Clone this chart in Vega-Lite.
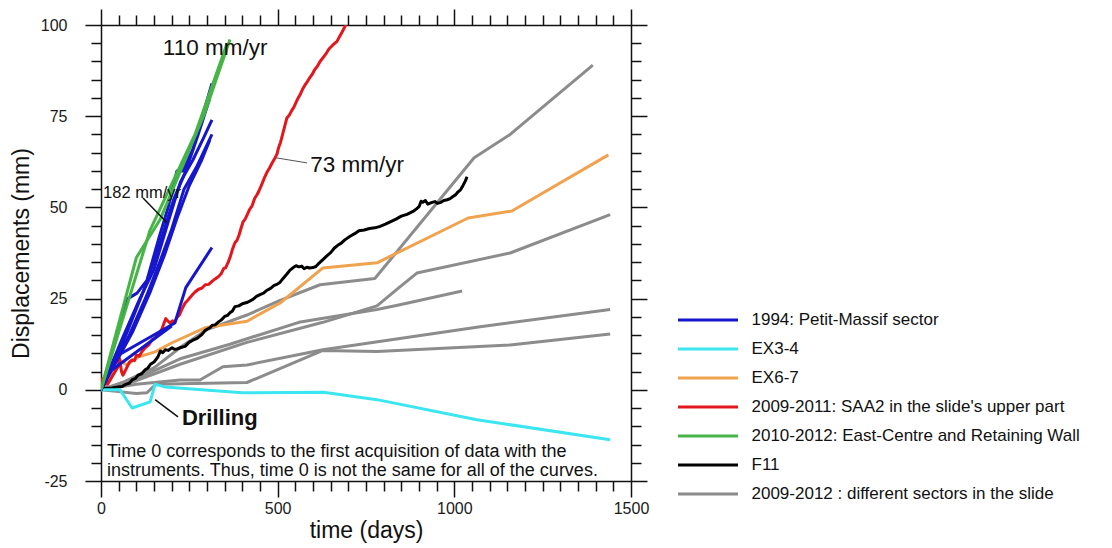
{
  "$schema": "https://vega.github.io/schema/vega-lite/v6.json",
  "width": 530,
  "height": 456,
  "autosize": {"type": "none"},
  "padding": {"left": 101, "top": 25, "right": 481, "bottom": 67},
  "background": "white",
  "config": {
    "view": {"stroke": null},
    "font": "Liberation Sans",
    "axis": {"grid": false, "domainColor": "#111", "domainWidth": 1.5, "tickColor": "#111", "tickWidth": 1.5, "labelColor": "#1a1a1a", "labelFontSize": 16, "labelOverlap": false, "labelFlush": false, "titleColor": "#111", "titleFontWeight": "normal", "titleFontSize": 23}
  },
  "datasets": {
    "series": [
      {"k": "blue", "s": "1994: Petit-Massif sector"},
      {"k": "cyan", "s": "EX3-4"},
      {"k": "orange", "s": "EX6-7"},
      {"k": "red", "s": "2009-2011: SAA2 in the slide's upper part"},
      {"k": "green", "s": "2010-2012: East-Centre and Retaining Wall"},
      {"k": "black", "s": "F11"},
      {"k": "gray", "s": "2009-2012 : different sectors in the slide"}
    ],
    "curves": [
      {"c": "g1", "k": "gray", "t": 0, "d": 0}, {"c": "g1", "k": "gray", "t": 60, "d": 2}, {"c": "g1", "k": "gray", "t": 150, "d": 6}, {"c": "g1", "k": "gray", "t": 230, "d": 12}, {"c": "g1", "k": "gray", "t": 300, "d": 16.5}, {"c": "g1", "k": "gray", "t": 413, "d": 20.5}, {"c": "g1", "k": "gray", "t": 507, "d": 24.5}, {"c": "g1", "k": "gray", "t": 620, "d": 28.8}, {"c": "g1", "k": "gray", "t": 775, "d": 30.5}, {"c": "g1", "k": "gray", "t": 1056, "d": 63.6}, {"c": "g1", "k": "gray", "t": 1158, "d": 70}, {"c": "g1", "k": "gray", "t": 1392, "d": 89},
      {"c": "g2", "k": "gray", "t": 0, "d": 0}, {"c": "g2", "k": "gray", "t": 100, "d": 2.5}, {"c": "g2", "k": "gray", "t": 224, "d": 7}, {"c": "g2", "k": "gray", "t": 413, "d": 13}, {"c": "g2", "k": "gray", "t": 628, "d": 18.5}, {"c": "g2", "k": "gray", "t": 781, "d": 23}, {"c": "g2", "k": "gray", "t": 846, "d": 28.2}, {"c": "g2", "k": "gray", "t": 894, "d": 32}, {"c": "g2", "k": "gray", "t": 1158, "d": 37.5}, {"c": "g2", "k": "gray", "t": 1441, "d": 48},
      {"c": "g3", "k": "gray", "t": 0, "d": 0}, {"c": "g3", "k": "gray", "t": 100, "d": 1.5}, {"c": "g3", "k": "gray", "t": 224, "d": 2.7}, {"c": "g3", "k": "gray", "t": 280, "d": 2.7}, {"c": "g3", "k": "gray", "t": 345, "d": 6.3}, {"c": "g3", "k": "gray", "t": 413, "d": 6.8}, {"c": "g3", "k": "gray", "t": 628, "d": 11}, {"c": "g3", "k": "gray", "t": 1073, "d": 17.3}, {"c": "g3", "k": "gray", "t": 1441, "d": 22},
      {"c": "g4", "k": "gray", "t": 0, "d": 0}, {"c": "g4", "k": "gray", "t": 50, "d": -0.5}, {"c": "g4", "k": "gray", "t": 100, "d": -1}, {"c": "g4", "k": "gray", "t": 130, "d": -0.8}, {"c": "g4", "k": "gray", "t": 155, "d": 1.5}, {"c": "g4", "k": "gray", "t": 413, "d": 2}, {"c": "g4", "k": "gray", "t": 628, "d": 10.8}, {"c": "g4", "k": "gray", "t": 781, "d": 10.5}, {"c": "g4", "k": "gray", "t": 1158, "d": 12.3}, {"c": "g4", "k": "gray", "t": 1441, "d": 15.3},
      {"c": "g5", "k": "gray", "t": 0, "d": 0}, {"c": "g5", "k": "gray", "t": 100, "d": 3}, {"c": "g5", "k": "gray", "t": 224, "d": 8.5}, {"c": "g5", "k": "gray", "t": 365, "d": 12.5}, {"c": "g5", "k": "gray", "t": 560, "d": 18.5}, {"c": "g5", "k": "gray", "t": 781, "d": 22}, {"c": "g5", "k": "gray", "t": 846, "d": 23.3}, {"c": "g5", "k": "gray", "t": 1022, "d": 27.1},

      {"c": "o1", "k": "orange", "t": 0, "d": 0}, {"c": "o1", "k": "orange", "t": 59, "d": 7.7}, {"c": "o1", "k": "orange", "t": 73, "d": 6.8}, {"c": "o1", "k": "orange", "t": 105, "d": 9}, {"c": "o1", "k": "orange", "t": 153, "d": 10.4}, {"c": "o1", "k": "orange", "t": 201, "d": 12.9}, {"c": "o1", "k": "orange", "t": 294, "d": 17}, {"c": "o1", "k": "orange", "t": 413, "d": 18.8}, {"c": "o1", "k": "orange", "t": 507, "d": 23.8}, {"c": "o1", "k": "orange", "t": 628, "d": 33.4}, {"c": "o1", "k": "orange", "t": 781, "d": 34.8}, {"c": "o1", "k": "orange", "t": 1039, "d": 47.1}, {"c": "o1", "k": "orange", "t": 1163, "d": 49}, {"c": "o1", "k": "orange", "t": 1436, "d": 64.4},

      {"c": "k1", "k": "black", "t": 0, "d": 0}, {"c": "k1", "k": "black", "t": 11, "d": 0.4}, {"c": "k1", "k": "black", "t": 30, "d": 0.5}, {"c": "k1", "k": "black", "t": 48, "d": 0.8}, {"c": "k1", "k": "black", "t": 60, "d": 0.9}, {"c": "k1", "k": "black", "t": 70, "d": 1.5}, {"c": "k1", "k": "black", "t": 80, "d": 1.8}, {"c": "k1", "k": "black", "t": 88, "d": 2.7}, {"c": "k1", "k": "black", "t": 97, "d": 3.1}, {"c": "k1", "k": "black", "t": 105, "d": 4}, {"c": "k1", "k": "black", "t": 115, "d": 4.4}, {"c": "k1", "k": "black", "t": 125, "d": 5.5}, {"c": "k1", "k": "black", "t": 133, "d": 6}, {"c": "k1", "k": "black", "t": 140, "d": 7}, {"c": "k1", "k": "black", "t": 150, "d": 7.6}, {"c": "k1", "k": "black", "t": 161, "d": 9}, {"c": "k1", "k": "black", "t": 168, "d": 10.6}, {"c": "k1", "k": "black", "t": 175, "d": 10.2}, {"c": "k1", "k": "black", "t": 182, "d": 11}, {"c": "k1", "k": "black", "t": 190, "d": 10.8}, {"c": "k1", "k": "black", "t": 201, "d": 11.5}, {"c": "k1", "k": "black", "t": 208, "d": 11.1}, {"c": "k1", "k": "black", "t": 215, "d": 11.2}, {"c": "k1", "k": "black", "t": 226, "d": 11.6}, {"c": "k1", "k": "black", "t": 238, "d": 11.9}, {"c": "k1", "k": "black", "t": 249, "d": 13}, {"c": "k1", "k": "black", "t": 260, "d": 13.6}, {"c": "k1", "k": "black", "t": 272, "d": 14.1}, {"c": "k1", "k": "black", "t": 286, "d": 15.2}, {"c": "k1", "k": "black", "t": 293, "d": 16.1}, {"c": "k1", "k": "black", "t": 300, "d": 16.6}, {"c": "k1", "k": "black", "t": 308, "d": 17}, {"c": "k1", "k": "black", "t": 315, "d": 17.7}, {"c": "k1", "k": "black", "t": 323, "d": 17.8}, {"c": "k1", "k": "black", "t": 331, "d": 18.5}, {"c": "k1", "k": "black", "t": 340, "d": 19.1}, {"c": "k1", "k": "black", "t": 350, "d": 20.1}, {"c": "k1", "k": "black", "t": 358, "d": 20.4}, {"c": "k1", "k": "black", "t": 365, "d": 21.1}, {"c": "k1", "k": "black", "t": 372, "d": 21.6}, {"c": "k1", "k": "black", "t": 379, "d": 22.8}, {"c": "k1", "k": "black", "t": 390, "d": 23}, {"c": "k1", "k": "black", "t": 400, "d": 23.6}, {"c": "k1", "k": "black", "t": 415, "d": 24}, {"c": "k1", "k": "black", "t": 430, "d": 24.8}, {"c": "k1", "k": "black", "t": 440, "d": 25.6}, {"c": "k1", "k": "black", "t": 450, "d": 26.1}, {"c": "k1", "k": "black", "t": 460, "d": 26.5}, {"c": "k1", "k": "black", "t": 470, "d": 27.3}, {"c": "k1", "k": "black", "t": 480, "d": 27.8}, {"c": "k1", "k": "black", "t": 490, "d": 28.6}, {"c": "k1", "k": "black", "t": 498, "d": 28.9}, {"c": "k1", "k": "black", "t": 507, "d": 29.5}, {"c": "k1", "k": "black", "t": 516, "d": 30.6}, {"c": "k1", "k": "black", "t": 525, "d": 31.6}, {"c": "k1", "k": "black", "t": 535, "d": 32.8}, {"c": "k1", "k": "black", "t": 544, "d": 33.5}, {"c": "k1", "k": "black", "t": 552, "d": 34}, {"c": "k1", "k": "black", "t": 560, "d": 33.7}, {"c": "k1", "k": "black", "t": 568, "d": 33.9}, {"c": "k1", "k": "black", "t": 575, "d": 33.2}, {"c": "k1", "k": "black", "t": 583, "d": 33.6}, {"c": "k1", "k": "black", "t": 590, "d": 33.4}, {"c": "k1", "k": "black", "t": 600, "d": 33.5}, {"c": "k1", "k": "black", "t": 608, "d": 33.8}, {"c": "k1", "k": "black", "t": 615, "d": 34.5}, {"c": "k1", "k": "black", "t": 628, "d": 35.7}, {"c": "k1", "k": "black", "t": 640, "d": 36.8}, {"c": "k1", "k": "black", "t": 650, "d": 37.6}, {"c": "k1", "k": "black", "t": 660, "d": 38.8}, {"c": "k1", "k": "black", "t": 670, "d": 39.6}, {"c": "k1", "k": "black", "t": 680, "d": 40.2}, {"c": "k1", "k": "black", "t": 690, "d": 41.1}, {"c": "k1", "k": "black", "t": 705, "d": 42.1}, {"c": "k1", "k": "black", "t": 718, "d": 42.8}, {"c": "k1", "k": "black", "t": 730, "d": 43.6}, {"c": "k1", "k": "black", "t": 745, "d": 43.8}, {"c": "k1", "k": "black", "t": 760, "d": 44.2}, {"c": "k1", "k": "black", "t": 775, "d": 44.4}, {"c": "k1", "k": "black", "t": 790, "d": 44.8}, {"c": "k1", "k": "black", "t": 805, "d": 45.4}, {"c": "k1", "k": "black", "t": 820, "d": 46.1}, {"c": "k1", "k": "black", "t": 835, "d": 46.8}, {"c": "k1", "k": "black", "t": 850, "d": 47.6}, {"c": "k1", "k": "black", "t": 866, "d": 48.1}, {"c": "k1", "k": "black", "t": 883, "d": 48.9}, {"c": "k1", "k": "black", "t": 893, "d": 49.6}, {"c": "k1", "k": "black", "t": 900, "d": 50.2}, {"c": "k1", "k": "black", "t": 906, "d": 51.7}, {"c": "k1", "k": "black", "t": 911, "d": 51.4}, {"c": "k1", "k": "black", "t": 918, "d": 51.9}, {"c": "k1", "k": "black", "t": 925, "d": 50.9}, {"c": "k1", "k": "black", "t": 935, "d": 51.3}, {"c": "k1", "k": "black", "t": 945, "d": 51.6}, {"c": "k1", "k": "black", "t": 952, "d": 51.1}, {"c": "k1", "k": "black", "t": 960, "d": 51.3}, {"c": "k1", "k": "black", "t": 970, "d": 51.9}, {"c": "k1", "k": "black", "t": 980, "d": 52.1}, {"c": "k1", "k": "black", "t": 988, "d": 52.4}, {"c": "k1", "k": "black", "t": 996, "d": 53}, {"c": "k1", "k": "black", "t": 1004, "d": 53.5}, {"c": "k1", "k": "black", "t": 1010, "d": 54.2}, {"c": "k1", "k": "black", "t": 1018, "d": 54.9}, {"c": "k1", "k": "black", "t": 1025, "d": 56.1}, {"c": "k1", "k": "black", "t": 1031, "d": 57.2}, {"c": "k1", "k": "black", "t": 1036, "d": 58.4},

      {"c": "c1", "k": "cyan", "t": 0, "d": 0}, {"c": "c1", "k": "cyan", "t": 54, "d": 0}, {"c": "c1", "k": "cyan", "t": 88, "d": -5}, {"c": "c1", "k": "cyan", "t": 139, "d": -3.3}, {"c": "c1", "k": "cyan", "t": 153, "d": 1.5}, {"c": "c1", "k": "cyan", "t": 181, "d": 0.8}, {"c": "c1", "k": "cyan", "t": 400, "d": -0.8}, {"c": "c1", "k": "cyan", "t": 630, "d": -0.7}, {"c": "c1", "k": "cyan", "t": 781, "d": -2.7}, {"c": "c1", "k": "cyan", "t": 1064, "d": -8.2}, {"c": "c1", "k": "cyan", "t": 1441, "d": -13.7},

      {"c": "r1", "k": "red", "t": 0, "d": 0}, {"c": "r1", "k": "red", "t": 4, "d": 3}, {"c": "r1", "k": "red", "t": 8, "d": 1}, {"c": "r1", "k": "red", "t": 12, "d": 4}, {"c": "r1", "k": "red", "t": 18, "d": 1.5}, {"c": "r1", "k": "red", "t": 28, "d": 3}, {"c": "r1", "k": "red", "t": 40, "d": 5}, {"c": "r1", "k": "red", "t": 48, "d": 6.3}, {"c": "r1", "k": "red", "t": 53, "d": 8.5}, {"c": "r1", "k": "red", "t": 58, "d": 5}, {"c": "r1", "k": "red", "t": 62, "d": 4}, {"c": "r1", "k": "red", "t": 70, "d": 5.5}, {"c": "r1", "k": "red", "t": 80, "d": 7.5}, {"c": "r1", "k": "red", "t": 88, "d": 8.2}, {"c": "r1", "k": "red", "t": 95, "d": 8}, {"c": "r1", "k": "red", "t": 100, "d": 9.5}, {"c": "r1", "k": "red", "t": 108, "d": 9.2}, {"c": "r1", "k": "red", "t": 116, "d": 10.5}, {"c": "r1", "k": "red", "t": 125, "d": 11.5}, {"c": "r1", "k": "red", "t": 135, "d": 12.3}, {"c": "r1", "k": "red", "t": 145, "d": 13.8}, {"c": "r1", "k": "red", "t": 153, "d": 14.2}, {"c": "r1", "k": "red", "t": 160, "d": 15.2}, {"c": "r1", "k": "red", "t": 168, "d": 16}, {"c": "r1", "k": "red", "t": 173, "d": 16.8}, {"c": "r1", "k": "red", "t": 178, "d": 18.2}, {"c": "r1", "k": "red", "t": 183, "d": 19.5}, {"c": "r1", "k": "red", "t": 188, "d": 19}, {"c": "r1", "k": "red", "t": 195, "d": 18.3}, {"c": "r1", "k": "red", "t": 202, "d": 18.9}, {"c": "r1", "k": "red", "t": 209, "d": 18.6}, {"c": "r1", "k": "red", "t": 215, "d": 19.8}, {"c": "r1", "k": "red", "t": 222, "d": 20.5}, {"c": "r1", "k": "red", "t": 230, "d": 22.3}, {"c": "r1", "k": "red", "t": 238, "d": 23.8}, {"c": "r1", "k": "red", "t": 245, "d": 24.5}, {"c": "r1", "k": "red", "t": 252, "d": 25.3}, {"c": "r1", "k": "red", "t": 260, "d": 26.2}, {"c": "r1", "k": "red", "t": 266, "d": 26.8}, {"c": "r1", "k": "red", "t": 275, "d": 27.5}, {"c": "r1", "k": "red", "t": 286, "d": 27.9}, {"c": "r1", "k": "red", "t": 295, "d": 28.8}, {"c": "r1", "k": "red", "t": 305, "d": 28.9}, {"c": "r1", "k": "red", "t": 315, "d": 29.8}, {"c": "r1", "k": "red", "t": 323, "d": 30.4}, {"c": "r1", "k": "red", "t": 332, "d": 31}, {"c": "r1", "k": "red", "t": 340, "d": 31.8}, {"c": "r1", "k": "red", "t": 347, "d": 33.2}, {"c": "r1", "k": "red", "t": 353, "d": 33.5}, {"c": "r1", "k": "red", "t": 360, "d": 35}, {"c": "r1", "k": "red", "t": 366, "d": 36.5}, {"c": "r1", "k": "red", "t": 372, "d": 38.5}, {"c": "r1", "k": "red", "t": 379, "d": 40.3}, {"c": "r1", "k": "red", "t": 385, "d": 41}, {"c": "r1", "k": "red", "t": 391, "d": 42.5}, {"c": "r1", "k": "red", "t": 397, "d": 44.5}, {"c": "r1", "k": "red", "t": 402, "d": 46}, {"c": "r1", "k": "red", "t": 408, "d": 46.8}, {"c": "r1", "k": "red", "t": 415, "d": 48.2}, {"c": "r1", "k": "red", "t": 421, "d": 49.5}, {"c": "r1", "k": "red", "t": 428, "d": 50.5}, {"c": "r1", "k": "red", "t": 435, "d": 52.5}, {"c": "r1", "k": "red", "t": 441, "d": 53.4}, {"c": "r1", "k": "red", "t": 447, "d": 54.5}, {"c": "r1", "k": "red", "t": 455, "d": 56.3}, {"c": "r1", "k": "red", "t": 462, "d": 58}, {"c": "r1", "k": "red", "t": 470, "d": 59.7}, {"c": "r1", "k": "red", "t": 477, "d": 60.8}, {"c": "r1", "k": "red", "t": 485, "d": 62.3}, {"c": "r1", "k": "red", "t": 492, "d": 63.5}, {"c": "r1", "k": "red", "t": 498, "d": 64.6}, {"c": "r1", "k": "red", "t": 503, "d": 66.5}, {"c": "r1", "k": "red", "t": 508, "d": 67.8}, {"c": "r1", "k": "red", "t": 514, "d": 70}, {"c": "r1", "k": "red", "t": 520, "d": 72.3}, {"c": "r1", "k": "red", "t": 526, "d": 74.5}, {"c": "r1", "k": "red", "t": 533, "d": 75.3}, {"c": "r1", "k": "red", "t": 540, "d": 76.6}, {"c": "r1", "k": "red", "t": 546, "d": 77.5}, {"c": "r1", "k": "red", "t": 552, "d": 78.8}, {"c": "r1", "k": "red", "t": 558, "d": 80}, {"c": "r1", "k": "red", "t": 563, "d": 80.8}, {"c": "r1", "k": "red", "t": 570, "d": 82.3}, {"c": "r1", "k": "red", "t": 577, "d": 83.5}, {"c": "r1", "k": "red", "t": 584, "d": 84.5}, {"c": "r1", "k": "red", "t": 592, "d": 85.7}, {"c": "r1", "k": "red", "t": 598, "d": 86.5}, {"c": "r1", "k": "red", "t": 605, "d": 87.8}, {"c": "r1", "k": "red", "t": 612, "d": 88.6}, {"c": "r1", "k": "red", "t": 620, "d": 90}, {"c": "r1", "k": "red", "t": 628, "d": 91}, {"c": "r1", "k": "red", "t": 636, "d": 92}, {"c": "r1", "k": "red", "t": 645, "d": 93.4}, {"c": "r1", "k": "red", "t": 655, "d": 94.4}, {"c": "r1", "k": "red", "t": 662, "d": 95}, {"c": "r1", "k": "red", "t": 668, "d": 95.5}, {"c": "r1", "k": "red", "t": 675, "d": 96.8}, {"c": "r1", "k": "red", "t": 682, "d": 98}, {"c": "r1", "k": "red", "t": 690, "d": 99.5}, {"c": "r1", "k": "red", "t": 698, "d": 101},

      {"c": "b1", "k": "blue", "t": 0, "d": 0}, {"c": "b1", "k": "blue", "t": 76, "d": 25}, {"c": "b1", "k": "blue", "t": 102, "d": 26.5}, {"c": "b1", "k": "blue", "t": 130, "d": 30}, {"c": "b1", "k": "blue", "t": 165, "d": 42}, {"c": "b1", "k": "blue", "t": 190, "d": 50}, {"c": "b1", "k": "blue", "t": 215, "d": 60}, {"c": "b1", "k": "blue", "t": 232, "d": 60}, {"c": "b1", "k": "blue", "t": 260, "d": 66}, {"c": "b1", "k": "blue", "t": 290, "d": 76}, {"c": "b1", "k": "blue", "t": 314, "d": 84},
      {"c": "b2", "k": "blue", "t": 0, "d": 0}, {"c": "b2", "k": "blue", "t": 60, "d": 14}, {"c": "b2", "k": "blue", "t": 110, "d": 25}, {"c": "b2", "k": "blue", "t": 150, "d": 33}, {"c": "b2", "k": "blue", "t": 190, "d": 46}, {"c": "b2", "k": "blue", "t": 225, "d": 57}, {"c": "b2", "k": "blue", "t": 260, "d": 63}, {"c": "b2", "k": "blue", "t": 290, "d": 69}, {"c": "b2", "k": "blue", "t": 314, "d": 74},
      {"c": "b3", "k": "blue", "t": 0, "d": 0}, {"c": "b3", "k": "blue", "t": 80, "d": 15}, {"c": "b3", "k": "blue", "t": 130, "d": 26}, {"c": "b3", "k": "blue", "t": 170, "d": 36}, {"c": "b3", "k": "blue", "t": 200, "d": 44}, {"c": "b3", "k": "blue", "t": 235, "d": 55}, {"c": "b3", "k": "blue", "t": 270, "d": 61}, {"c": "b3", "k": "blue", "t": 314, "d": 70},
      {"c": "b4", "k": "blue", "t": 0, "d": 0}, {"c": "b4", "k": "blue", "t": 90, "d": 16}, {"c": "b4", "k": "blue", "t": 140, "d": 27}, {"c": "b4", "k": "blue", "t": 180, "d": 37}, {"c": "b4", "k": "blue", "t": 215, "d": 47}, {"c": "b4", "k": "blue", "t": 250, "d": 56}, {"c": "b4", "k": "blue", "t": 285, "d": 63}, {"c": "b4", "k": "blue", "t": 308, "d": 68.5},
      {"c": "b5", "k": "blue", "t": 0, "d": 0}, {"c": "b5", "k": "blue", "t": 50, "d": 10}, {"c": "b5", "k": "blue", "t": 120, "d": 27}, {"c": "b5", "k": "blue", "t": 160, "d": 38}, {"c": "b5", "k": "blue", "t": 205, "d": 52}, {"c": "b5", "k": "blue", "t": 240, "d": 60}, {"c": "b5", "k": "blue", "t": 275, "d": 70}, {"c": "b5", "k": "blue", "t": 308, "d": 80},
      {"c": "b6", "k": "blue", "t": 0, "d": 0}, {"c": "b6", "k": "blue", "t": 40, "d": 9}, {"c": "b6", "k": "blue", "t": 209, "d": 18.3}, {"c": "b6", "k": "blue", "t": 240, "d": 28}, {"c": "b6", "k": "blue", "t": 314, "d": 39},
      {"c": "b7", "k": "blue", "t": 0, "d": 0}, {"c": "b7", "k": "blue", "t": 25, "d": 5}, {"c": "b7", "k": "blue", "t": 200, "d": 17.5},

      {"c": "e1", "k": "green", "t": 0, "d": 0}, {"c": "e1", "k": "green", "t": 100, "d": 36.2}, {"c": "e1", "k": "green", "t": 110, "d": 37.8}, {"c": "e1", "k": "green", "t": 167, "d": 46.6}, {"c": "e1", "k": "green", "t": 294, "d": 76}, {"c": "e1", "k": "green", "t": 365, "d": 96},
      {"c": "e2", "k": "green", "t": 0, "d": 0}, {"c": "e2", "k": "green", "t": 139, "d": 43.8}, {"c": "e2", "k": "green", "t": 266, "d": 70}, {"c": "e2", "k": "green", "t": 357, "d": 95}
    ]
  },
  "layer": [
    {
      "data": {"name": "curves"},
      "transform": [{"lookup": "k", "from": {"data": {"name": "series"}, "key": "k", "fields": ["s"]}}],
      "mark": {"type": "line", "clip": true, "strokeJoin": "round", "strokeCap": "butt"},
      "encoding": {
        "x": {"field": "t", "type": "quantitative", "scale": {"domain": [0, 1500], "nice": false, "zero": false},
          "axis": {"orient": "bottom", "values": [0, 50, 100, 150, 200, 250, 300, 350, 400, 450, 500, 550, 600, 650, 700, 750, 800, 850, 900, 950, 1000, 1050, 1100, 1150, 1200, 1250, 1300, 1350, 1400, 1450, 1500],
            "labelExpr": "datum.value % 500 === 0 ? '' + datum.value : ''",
            "tickSize": {"condition": {"test": "datum.value % 500 === 0", "value": 16}, "value": 10},
            "labelPadding": 3, "title": "time (days)", "titlePadding": 3}},
        "y": {"field": "d", "type": "quantitative", "scale": {"domain": [-25, 100], "nice": false, "zero": false},
          "axis": {"orient": "left", "values": [-25, -20, -15, -10, -5, 0, 5, 10, 15, 20, 25, 30, 35, 40, 45, 50, 55, 60, 65, 70, 75, 80, 85, 90, 95, 100],
            "labelExpr": "datum.value % 25 === 0 ? '' + datum.value : ''",
            "tickSize": {"condition": {"test": "datum.value % 25 === 0", "value": 16}, "value": 10},
            "labelPadding": 18, "title": "Displacements (mm)", "titlePadding": 7}},
        "color": {"field": "s", "type": "nominal",
          "scale": {"domain": ["1994: Petit-Massif sector", "EX3-4", "EX6-7", "2009-2011: SAA2 in the slide's upper part", "2010-2012: East-Centre and Retaining Wall", "F11", "2009-2012 : different sectors in the slide"],
            "range": ["#1616cc", "#3ce6f0", "#f0a24e", "#e3161c", "#46b446", "#000000", "#8c8c8c"]},
          "legend": {"orient": "none", "legendX": 598.5, "legendY": 286.5, "title": null, "symbolType": "M-6,0H6", "symbolSize": 100, "symbolStrokeWidth": 3, "labelFontSize": 17, "labelOffset": 35, "rowPadding": 11, "padding": 0, "labelLimit": 500, "labelColor": "#111"}},
        "strokeWidth": {"field": "k", "type": "nominal", "scale": {"domain": ["blue", "cyan", "orange", "red", "green", "black", "gray"], "range": [3, 3, 2.6, 3.8, 3, 2.8, 2.8]}, "legend": null},
        "detail": {"field": "c"}
      }
    },
    {
      "data": {"values": [
        {"t": 17, "d": -17, "txt": "Time 0 corresponds to the first acquisition of data with the"},
        {"t": 17, "d": -22.2, "txt": "instruments. Thus, time 0 is not the same for all of the curves."}
      ]},
      "mark": {"type": "text", "align": "left", "baseline": "middle", "fontSize": 18, "color": "#111"},
      "encoding": {
        "x": {"field": "t", "type": "quantitative",
          "axis": {"orient": "top", "values": [0, 50, 100, 150, 200, 250, 300, 350, 400, 450, 500, 550, 600, 650, 700, 750, 800, 850, 900, 950, 1000, 1050, 1100, 1150, 1200, 1250, 1300, 1350, 1400, 1450, 1500],
            "labels": false, "title": null,
            "tickSize": {"condition": {"test": "datum.value % 500 === 0", "value": 16}, "value": 10}}},
        "y": {"field": "d", "type": "quantitative",
          "axis": {"orient": "right", "values": [-25, -20, -15, -10, -5, 0, 5, 10, 15, 20, 25, 30, 35, 40, 45, 50, 55, 60, 65, 70, 75, 80, 85, 90, 95, 100],
            "labels": false, "title": null,
            "tickSize": {"condition": {"test": "datum.value % 25 === 0", "value": 16}, "value": 10}}},
        "text": {"field": "txt"}
      }
    },
    {
      "data": {"values": [
        {"t": 119, "d": 52.6, "t2": 187, "d2": 45.8},
        {"t": 153, "d": -2.7, "t2": 218, "d2": -7.4}
      ]},
      "mark": {"type": "rule", "color": "#111", "strokeWidth": 1.5},
      "encoding": {
        "x": {"field": "t", "type": "quantitative", "axis": null},
        "y": {"field": "d", "type": "quantitative", "axis": null},
        "x2": {"field": "t2"},
        "y2": {"field": "d2"}
      }
    },
    {
      "data": {"values": [
        {"t": 495, "d": 63.6, "t2": 583, "d2": 62.2}
      ]},
      "mark": {"type": "rule", "color": "#555", "strokeWidth": 1},
      "encoding": {
        "x": {"field": "t", "type": "quantitative", "axis": null},
        "y": {"field": "d", "type": "quantitative", "axis": null},
        "x2": {"field": "t2"},
        "y2": {"field": "d2"}
      }
    },
    {
      "data": {"values": [
        {"t": 175, "d": 93.7, "txt": "110 mm/yr"},
        {"t": 592, "d": 61.6, "txt": "73 mm/yr"}
      ]},
      "mark": {"type": "text", "align": "left", "baseline": "middle", "fontSize": 22.5, "color": "#111"},
      "encoding": {
        "x": {"field": "t", "type": "quantitative", "axis": null},
        "y": {"field": "d", "type": "quantitative", "axis": null},
        "text": {"field": "txt"}
      }
    },
    {
      "data": {"values": [{"t": 6, "d": 54, "txt": "182 mm/yr"}]},
      "mark": {"type": "text", "align": "left", "baseline": "middle", "fontSize": 16.5, "color": "#111"},
      "encoding": {
        "x": {"field": "t", "type": "quantitative", "axis": null},
        "y": {"field": "d", "type": "quantitative", "axis": null},
        "text": {"field": "txt"}
      }
    },
    {
      "data": {"values": [{"t": 229, "d": -7.7, "txt": "Drilling"}]},
      "mark": {"type": "text", "align": "left", "baseline": "middle", "fontSize": 22, "fontWeight": "bold", "color": "#111"},
      "encoding": {
        "x": {"field": "t", "type": "quantitative", "axis": null},
        "y": {"field": "d", "type": "quantitative", "axis": null},
        "text": {"field": "txt"}
      }
    }
  ],
  "resolve": {"axis": {"x": "independent", "y": "independent"}}
}
